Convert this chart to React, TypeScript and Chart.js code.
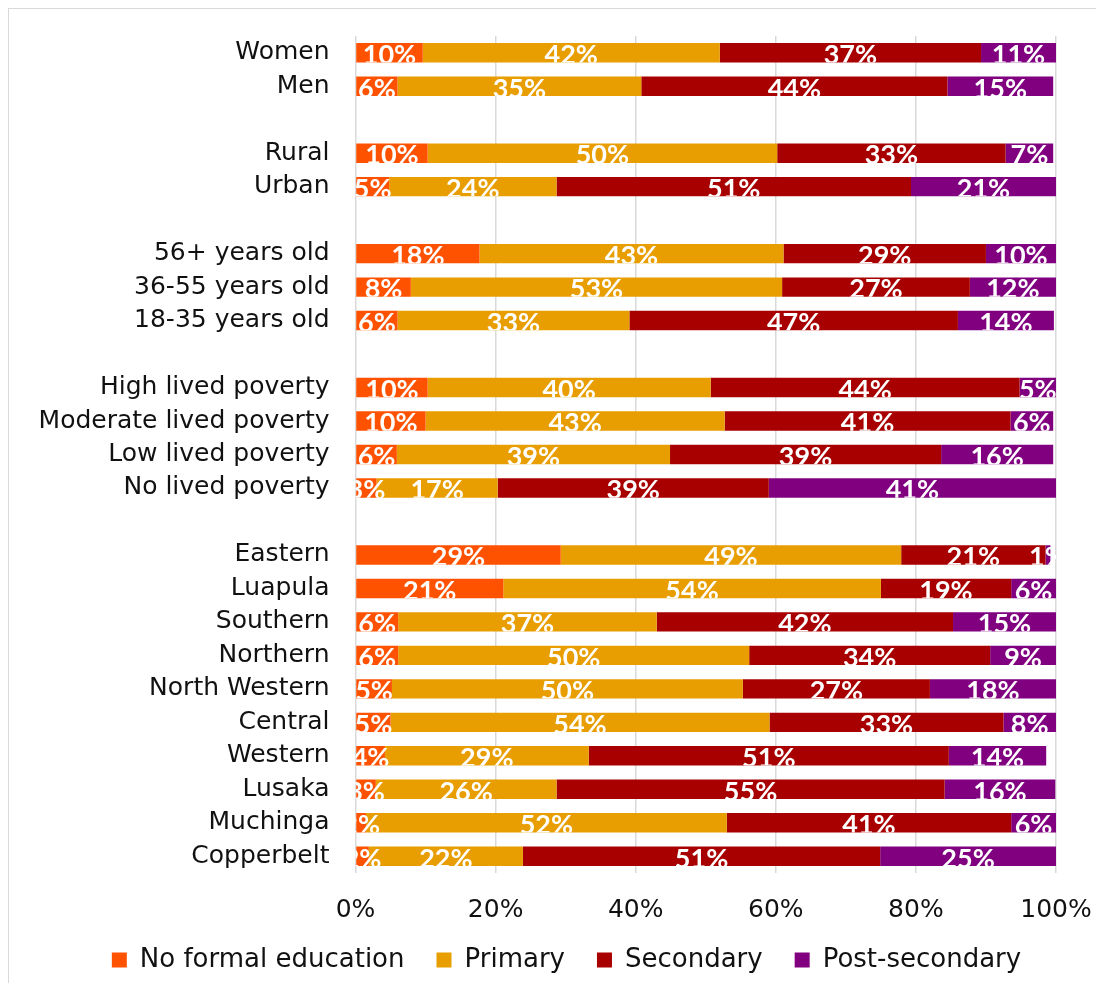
import React, { useEffect, useRef } from 'react';
import { Chart, registerables } from 'chart.js';
Chart.register(...registerables);

const categories = [
  'Women', 'Men', '',
  'Rural', 'Urban', '',
  '56+ years old', '36-55 years old', '18-35 years old', '',
  'High lived poverty', 'Moderate lived poverty', 'Low lived poverty', 'No lived poverty', '',
  'Eastern', 'Luapula', 'Southern', 'Northern', 'North Western', 'Central', 'Western', 'Lusaka', 'Muchinga', 'Copperbelt',
];

const noFormal = [9.6, 6.0, null, 10.3, 4.8, null, 17.7, 7.9, 6.0, null, 10.3, 10.0, 5.9, 3.0, null, 29.3, 21.1, 6.1, 6.1, 5.2, 5.0, 4.2, 2.9, 1.5, 1.9];
const primary = [42.4, 34.8, null, 49.9, 23.9, null, 43.4, 53.0, 33.1, null, 40.4, 42.7, 39.0, 17.3, null, 48.6, 53.9, 36.9, 50.1, 50.1, 54.1, 29.1, 25.8, 51.5, 22.0];
const secondary = [37.3, 43.7, null, 32.6, 50.6, null, 28.9, 26.8, 46.9, null, 44.1, 40.8, 38.7, 38.7, null, 20.6, 18.6, 42.3, 34.4, 26.7, 33.4, 51.4, 55.4, 40.6, 51.0];
const postSecondary = [10.7, 15.1, null, 6.8, 20.7, null, 10.0, 12.3, 13.7, null, 5.2, 6.1, 16.0, 41.0, null, 0.7, 6.4, 14.7, 9.4, 18.0, 7.5, 13.9, 15.8, 6.4, 25.1];

const seriesNames = ['No formal education', 'Primary', 'Secondary', 'Post-secondary'];
const seriesColors = ['#FF5200', '#E89E00', '#A80000', '#800080'];
const xTicks = [0, 20, 40, 60, 80, 100];

const FONT = '"DejaVu Sans", sans-serif';
const LEGEND_HEIGHT = 54;
const LEGEND_TOP = 906;
const LEGEND_SHIFT = 34;

const segLabels = {
  id: 'segLabels',
  beforeLayout(chart: any) {
    const lg = chart.legend;
    if (lg && !lg.__patched) {
      const orig = lg.fit.bind(lg);
      lg.fit = function () {
        orig();
        this.height = LEGEND_HEIGHT;
      };
      lg.__patched = true;
    }
  },
  afterLayout(chart: any) {
    const lg = chart.legend;
    if (lg) {
      lg.left += LEGEND_SHIFT;
      lg.right += LEGEND_SHIFT;
      lg.top = LEGEND_TOP;
      lg.bottom = LEGEND_TOP + 70;
    }
  },
  afterDatasetsDraw(chart: any) {
    const { ctx, chartArea } = chart;
    ctx.save();
    ctx.font = 'bold 27px Lato, sans-serif';
    ctx.fillStyle = '#ffffff';
    ctx.textAlign = 'center';
    ctx.textBaseline = 'alphabetic';
    chart.data.datasets.forEach((ds: any, di: number) => {
      const meta = chart.getDatasetMeta(di);
      meta.data.forEach((el: any, i: number) => {
        const v = ds.data[i];
        if (v == null) return;
        const p = el.getProps(['x', 'y', 'base', 'height'], true);
        const top = p.y - p.height / 2;
        ctx.save();
        ctx.beginPath();
        ctx.rect(chartArea.left, top, chartArea.right - chartArea.left, p.height);
        ctx.clip();
        ctx.fillText(Math.round(v) + '%', (p.x + p.base) / 2, top + 21);
        ctx.restore();
      });
    });
    ctx.restore();
  },
};

export default function App() {
  const ref = useRef<HTMLCanvasElement | null>(null);
  useEffect(() => {
    if (!ref.current) return;
    const data = [noFormal, primary, secondary, postSecondary];
    const chart = new Chart(ref.current, {
      type: 'bar',
      data: {
        labels: categories,
        datasets: data.map((d, i) => ({
          label: seriesNames[i],
          data: d,
          backgroundColor: seriesColors[i],
          borderWidth: 0,
          barPercentage: 0.58,
          categoryPercentage: 1,
        })),
      },
      options: {
        indexAxis: 'y',
        animation: false,
        responsive: false,
        maintainAspectRatio: false,
        layout: { padding: { top: 27, right: 40, left: 0, bottom: 0 } },
        scales: {
          x: {
            stacked: true,
            min: 0,
            max: 100,
            afterBuildTicks: (scale: any) => {
              scale.ticks = xTicks.map((v) => ({ value: v }));
            },
            afterFit: (scale: any) => {
              scale.height = 56;
              scale.paddingLeft = 0;
              scale.paddingRight = 0;
            },
            ticks: {
              callback: (v: any) => v + '%',
              font: { family: FONT, size: 25 },
              color: '#111',
              padding: 22,
              maxRotation: 0,
            },
            grid: { color: '#d9d9d9', lineWidth: 1.5, drawTicks: false },
            border: { display: false },
          },
          y: {
            stacked: true,
            afterFit: (scale: any) => {
              scale.width = 346.5;
              scale.paddingTop = 0;
              scale.paddingBottom = 0;
            },
            ticks: {
              font: { family: FONT, size: 25 },
              color: '#111',
              padding: 26,
              autoSkip: false,
            },
            grid: { display: false, drawTicks: false },
            border: { display: false },
          },
        },
        plugins: {
          legend: {
            position: 'bottom',
            labels: {
              boxWidth: 15,
              boxHeight: 15,
              padding: 32,
              color: '#111',
              font: { family: FONT, size: 26 },
            },
          },
          tooltip: { enabled: false },
        },
      },
      plugins: [segLabels],
    });
    return () => chart.destroy();
  }, []);
  return (
    <div style={{ width: 1088, height: 975, borderTop: '1px solid #d9d9d9', borderLeft: '1px solid #d9d9d9', boxSizing: 'border-box' }}>
      <canvas ref={ref} width={1087} height={974} style={{ display: 'block', width: 1087, height: 974 }} />
    </div>
  );
}
